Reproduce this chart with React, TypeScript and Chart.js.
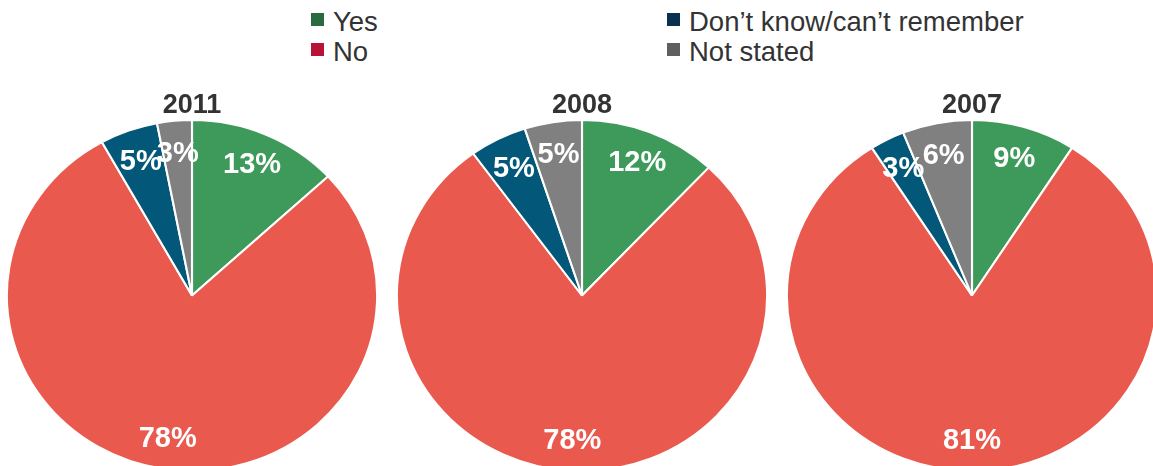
import { useEffect, useRef } from "react";
import { Chart, registerables } from "chart.js";

Chart.register(...registerables);

const categories = ["Yes", "No", "Don’t know/can’t remember", "Not stated"];
const years = ["2011", "2008", "2007"];
const values2011 = [13, 78, 5, 3];
const values2008 = [12, 78, 5, 5];
const values2007 = [9, 81, 3, 6];
const sliceColors = ["#3d9a5a", "#e9594e", "#03587a", "#808080"];
const legendColors = ["#2a6a3e", "#b81237", "#0a3050", "#5f5f5f"];

const FONT = "'Liberation Sans', Arial, Helvetica, sans-serif";
const SX = 1.055;

const ellipsePlugin = {
  id: "ellipseAndLabels",
  beforeDatasetsDraw(chart: any) {
    const arc = chart.getDatasetMeta(0).data[0];
    if (!arc) return;
    const { x, y } = arc;
    const ctx = chart.ctx;
    ctx.save();
    ctx.translate(x, y);
    ctx.scale(SX, 1);
    ctx.translate(-x, -y);
  },
  afterDatasetsDraw(chart: any) {
    const ctx = chart.ctx;
    ctx.restore();
    const meta = chart.getDatasetMeta(0);
    const data = chart.data.datasets[0].data;
    ctx.save();
    ctx.fillStyle = "#ffffff";
    ctx.font = `bold 29px ${FONT}`;
    ctx.textAlign = "center";
    ctx.textBaseline = "middle";
    meta.data.forEach((el: any, i: number) => {
      const { x, y, startAngle, endAngle, outerRadius } = el.getProps(
        ["x", "y", "startAngle", "endAngle", "outerRadius"],
        true
      );
      const mid = (startAngle + endAngle) / 2;
      const r = outerRadius * (data[i] > 50 ? 0.83 : 0.81);
      ctx.fillText(`${data[i]}%`, x + Math.cos(mid) * r * SX, y + Math.sin(mid) * r);
    });
    ctx.restore();
  },
};

function PieChart({ values, title, left }: { values: number[]; title: string; left: number }) {
  const ref = useRef<HTMLCanvasElement>(null);
  useEffect(() => {
    const canvas = ref.current!;
    const chart = new Chart(canvas, {
      type: "pie",
      data: {
        labels: categories,
        datasets: [
          {
            data: values,
            backgroundColor: sliceColors,
            borderColor: "#ffffff",
            borderWidth: 2,
          },
        ],
      },
      options: {
        responsive: false,
        animation: false,
        events: [],
        layout: { padding: 0 },
        plugins: {
          legend: { display: false },
          tooltip: { enabled: false },
          title: {
            display: true,
            text: title,
            color: "#333333",
            font: { family: FONT, size: 27, weight: "bold", lineHeight: 1 },
            padding: { top: 3, bottom: 0 },
          },
        },
      } as any,
      plugins: [ellipsePlugin],
    });
    return () => chart.destroy();
  }, [values, title]);
  return (
    <canvas
      ref={ref}
      width={380}
      height={383}
      style={{ position: "absolute", left, top: 89, width: 380, height: 383 }}
    />
  );
}

function LegendItem({ label, color, left, top }: { label: string; color: string; left: number; top: number }) {
  return (
    <div style={{ position: "absolute", left, top, height: 30, whiteSpace: "nowrap" }}>
      <div
        style={{
          position: "absolute",
          left: 0,
          top: 6,
          width: 13,
          height: 13,
          background: color,
        }}
      />
      <div
        style={{
          position: "absolute",
          left: 22,
          top: 0,
          lineHeight: "30px",
          fontSize: 27.5,
          fontFamily: FONT,
          color: "#333333",
        }}
      >
        {label}
      </div>
    </div>
  );
}

export default function App() {
  const pies = [values2011, values2008, values2007];
  const legendPos = [
    { left: 311, top: 7 },
    { left: 311, top: 37 },
    { left: 667, top: 7 },
    { left: 667, top: 37 },
  ];
  return (
    <div
      style={{
        position: "fixed",
        left: 0,
        top: 0,
        width: 1153,
        height: 466,
        overflow: "hidden",
        background: "#ffffff",
      }}
    >
      {categories.map((c, i) => (
        <LegendItem key={c} label={c} color={legendColors[i]} left={legendPos[i].left} top={legendPos[i].top} />
      ))}
      {pies.map((v, i) => (
        <PieChart key={years[i]} values={v} title={years[i]} left={2 + i * 390} />
      ))}
    </div>
  );
}
